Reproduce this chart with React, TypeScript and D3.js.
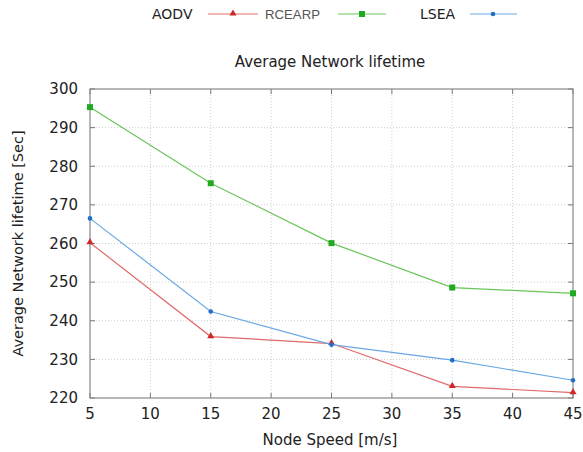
import React from "react";
import * as d3 from "d3";

const speeds = [5, 15, 25, 35, 45];
const aodv = [260.2, 235.9, 234.1, 223.0, 221.4];
const rcearp = [295.3, 275.6, 260.1, 248.6, 247.1];
const lsea = [266.5, 242.4, 233.8, 229.8, 224.6];
const xTicks = [5, 10, 15, 20, 25, 30, 35, 40, 45];
const yTicks = [220, 230, 240, 250, 260, 270, 280, 290, 300];

const font = "DejaVu Sans, sans-serif";

export default function App() {
	const width = 583;
	const height = 452;
	const left = 90;
	const right = 573;
	const top = 89;
	const bottom = 398;

	const x = d3.scaleLinear().domain([5, 45]).range([left, right]);
	const y = d3.scaleLinear().domain([220, 300]).range([bottom, top]);

	const line = d3
		.line<number>()
		.x((_, i) => x(speeds[i]))
		.y((d) => y(d));

	const series = [
		{ name: "AODV", values: aodv, color: "#e06a6a", marker: "triangle" },
		{ name: "RCEARP", values: rcearp, color: "#6cc45c", marker: "square" },
		{ name: "LSEA", values: lsea, color: "#6aa8e4", marker: "dot" },
	];

	const marker = (kind: string, cx: number, cy: number, key: string) => {
		if (kind === "triangle") {
			const tri = d3.symbol(d3.symbolTriangle, 22)()!;
			return <path key={key} d={tri} transform={`translate(${cx},${cy - 0.5})`} fill="#cc2a2a" />;
		}
		if (kind === "square") {
			return <rect key={key} x={cx - 3} y={cy - 3} width={6} height={6} fill="#1faa1f" />;
		}
		return <circle key={key} cx={cx} cy={cy} r={2.3} fill="#1f6fc8" />;
	};

	return (
		<svg width={width} height={height} style={{ position: "absolute", left: 0, top: 0 }}>
			<rect width={width} height={height} fill="#fff" />

			{/* legend */}
			<g fontFamily={font} fontSize={14}>
				<text x={152} y={19} fill="#222">AODV</text>
				<line x1={208} x2={258} y1={14} y2={14} stroke="#e06a6a" />
				{marker("triangle", 233, 14, "lt")}
				<text x={265} y={19} fill="#555" fontFamily="Liberation Sans, sans-serif" fontSize={13} textLength={55} lengthAdjust="spacingAndGlyphs">RCEARP</text>
				<line x1={338} x2={386} y1={14} y2={14} stroke="#6cc45c" />
				{marker("square", 362, 14, "ls")}
				<text x={420} y={19} fill="#222">LSEA</text>
				<line x1={470} x2={517} y1={14} y2={14} stroke="#6aa8e4" />
				{marker("dot", 493, 14, "ld")}
			</g>

			<text x={330} y={67} textAnchor="middle" fontFamily={font} fontSize={15} fill="#222">
				Average Network lifetime
			</text>

			{/* grid */}
			<g stroke="#cfcfcf" strokeDasharray="1,2" strokeWidth={1}>
				{xTicks.slice(1, -1).map((t) => (
					<line key={"gx" + t} x1={x(t)} x2={x(t)} y1={top} y2={bottom} />
				))}
				{yTicks.slice(1, -1).map((t) => (
					<line key={"gy" + t} x1={left} x2={right} y1={y(t)} y2={y(t)} />
				))}
			</g>

			{/* tick marks */}
			<g stroke="#777">
				{xTicks.map((t) => (
					<g key={"tx" + t}>
						<line x1={x(t)} x2={x(t)} y1={bottom} y2={bottom - 5} />
						<line x1={x(t)} x2={x(t)} y1={top} y2={top + 5} />
					</g>
				))}
				{yTicks.map((t) => (
					<g key={"ty" + t}>
						<line x1={left} x2={left + 5} y1={y(t)} y2={y(t)} />
						<line x1={right} x2={right - 5} y1={y(t)} y2={y(t)} />
					</g>
				))}
			</g>

			<rect x={left} y={top} width={right - left} height={bottom - top} fill="none" stroke="#888" strokeWidth={1.2} />

			{/* tick labels */}
			<g fontFamily={font} fontSize={15} fill="#222">
				{xTicks.map((t) => (
					<text key={"lx" + t} x={x(t)} y={bottom + 21} textAnchor="middle">{t}</text>
				))}
				{yTicks.map((t) => (
					<text key={"ly" + t} x={left - 12} y={y(t)} dy="0.35em" textAnchor="end">{t}</text>
				))}
			</g>

			<text x={330} y={445} textAnchor="middle" fontFamily={font} fontSize={15} fill="#222">
				Node Speed [m/s]
			</text>
			<text
				transform={`translate(23, ${(top + bottom) / 2}) rotate(-90)`}
				textAnchor="middle"
				fontFamily={font}
				fontSize={14.5}
				fill="#222"
			>
				Average Network lifetime [Sec]
			</text>

			{/* series */}
			{series.map((s) => (
				<g key={s.name}>
					<path d={line(s.values) || undefined} fill="none" stroke={s.color} strokeWidth={1.2} />
					{s.values.map((v, i) => marker(s.marker, x(speeds[i]), y(v), s.name + i))}
				</g>
			))}
		</svg>
	);
}
